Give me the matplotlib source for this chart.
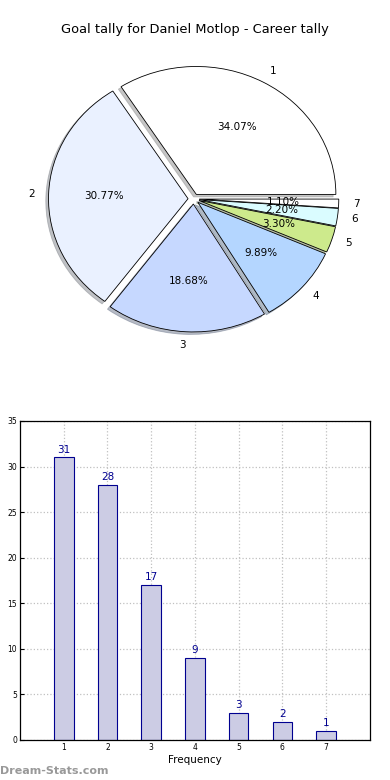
import matplotlib
matplotlib.use("Agg")
import matplotlib.pyplot as plt

# goal tally data
goals = [1, 2, 3, 4, 5, 6, 7]
counts = [31, 28, 17, 9, 3, 2, 1]
pie_labels = ['1', '2', '3', '4', '5', '6', '7']
pie_colors = ['#ffffff', '#eaf1ff', '#c6d8ff', '#b4d6ff', '#cdea8c', '#dafcff', '#ffffff']

fig = plt.figure(figsize=(3.9, 7.8), dpi=100)

### Pie chart ###
ax1 = fig.add_axes([0.0385, 0.54, 0.916, 0.41])
ax1.pie(counts, labels=pie_labels, colors=pie_colors, autopct='%1.2f%%',
        explode=[0.04] * len(counts),
        shadow={'ox': -0.014, 'oy': -0.014, 'shade': 0.45}, startangle=0,
        wedgeprops={'edgecolor': 'black', 'linewidth': 0.6},
        textprops={'fontsize': 7.5})
ax1.set_aspect('auto')
ax1.set_xlim(-1.28, 1.28)
ax1.set_ylim(-1.25, 1.25)
ax1.axis('off')
fig.text(0.5, 0.962, 'Goal tally for Daniel Motlop - Career tally',
         ha='center', va='center', fontsize=9.4)

### Bar chart ###
ax2 = fig.add_axes([0.0513, 0.0513, 0.897, 0.409])
ax2.bar(goals, counts, width=0.45, color='#ccccE4', edgecolor='#000090',
        linewidth=0.8, zorder=2)
for g, c in zip(goals, counts):
    ax2.text(g, c + 0.3, str(c), ha='center', va='bottom', color='#000090',
             fontsize=7.5)
ax2.set_xlim(0, 8)
ax2.set_ylim(0, 35)
ax2.set_xticks(goals)
ax2.set_yticks(range(0, 36, 5))
ax2.tick_params(labelsize=5.5, direction='in', length=3, pad=2)
ax2.grid(True, linestyle=':', color='#c0c0c0', linewidth=0.9, zorder=0)
ax2.set_axisbelow(True)
ax2.set_xlabel('Frequency', fontsize=7.5, labelpad=2)
ax2.set_ylabel('Goals in Match', fontsize=7.5)
ax2.yaxis.set_label_coords(-0.058, 0.5)
for s in ax2.spines.values():
    s.set_linewidth(0.9)

fig.text(0.0, 0.012, 'Dream-Stats.com', ha='left', va='center', fontsize=8,
         color='#999999', fontweight='bold')

plt.savefig('out.png', dpi=100)
